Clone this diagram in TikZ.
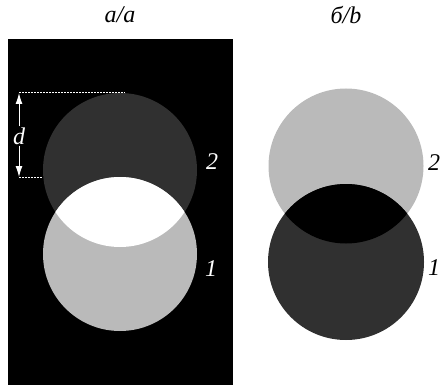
\documentclass[tikz,border=0pt]{standalone}
\usepackage{fontspec}
\setmainfont{Liberation Serif}
\usetikzlibrary{arrows.meta}
\definecolor{darkdisk}{gray}{0.19}
\definecolor{lightdisk}{gray}{0.73}
\tikzset{lbl/.style={font=\fontsize{24}{28}\selectfont\itshape,inner sep=1pt}}
\begin{document}
\begin{tikzpicture}[x=1pt,y=-1pt]
    \useasboundingbox (0,0) rectangle (441,385);
    \fill[black] (8,39) rectangle (233,385);
    \fill[darkdisk] (120,170) circle (77);
    \fill[lightdisk] (120,254) circle (77);
    \begin{scope}
      \clip (120,170) circle (77);
      \fill[white] (120,254) circle (77);
    \end{scope}
    \fill[lightdisk] (346,166) circle (77.5);
    \fill[darkdisk] (346,262) circle (78);
    \begin{scope}
      \clip (346,166) circle (77.5);
      \fill[black] (346,262) circle (78);
    \end{scope}
    \node[lbl] (ttlA) at (120,15) {а/a};
    \node[lbl] (ttlB) at (346,15) {б/b};
    \node[lbl,white] (numA2) at (212,162) {2};
    \node[lbl,white] (numA1) at (211,269) {1};
    \node[lbl] (numB2) at (434,163) {2};
    \node[lbl] (numB1) at (434,268) {1};
    \coordinate (dTop) at (19,93);
    \coordinate (dBot) at (19,177);
    \coordinate (dTopEnd) at (125,93);
    \coordinate (dBotEnd) at (43,177);
    \node[lbl,white] (dlbl) at (19,136) {d};
    \draw[white,line width=1pt,-{Latex[length=11pt,width=7pt]}] (dlbl) -- (dTop);
    \draw[white,line width=1pt,-{Latex[length=11pt,width=7pt]}] (dlbl) -- (dBot);
    \draw[white,line width=1pt,dash pattern=on 2pt off 1pt] (dTop) -- (dTopEnd);
    \draw[white,line width=1pt,dash pattern=on 2pt off 1pt] (dBot) -- (dBotEnd);
  \end{tikzpicture}
\end{document}
